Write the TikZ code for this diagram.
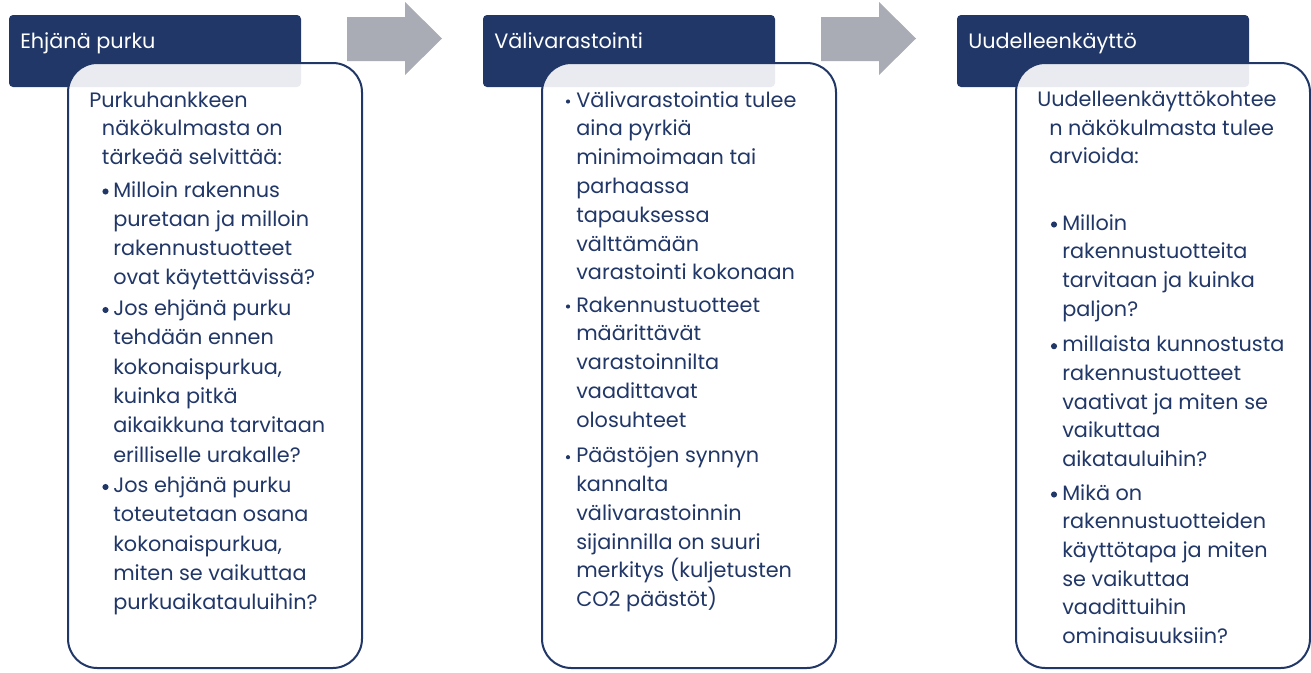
\documentclass[tikz,border=0pt]{standalone}
\usepackage{fontspec}
\setmainfont{Poppins}
\definecolor{navy}{HTML}{213767}
\definecolor{arrowgray}{HTML}{A9ABB5}
\tikzset{
  hdr/.style={fill=navy, rounded corners=3pt},
  card/.style={draw=navy, line width=1.5pt, fill=white, fill opacity=0.9, rounded corners=22pt},
  txt/.style={anchor=base west, inner sep=0pt, text=navy, font=\fontsize{15.6}{18}\selectfont},
  htxt/.style={anchor=base west, inner sep=0pt, text=white, font=\fontsize{15.6}{18}\selectfont},
  bigdot/.style={circle, fill=navy, inner sep=0pt, minimum size=4.6pt},
  smalldot/.style={circle, fill=navy, inner sep=0pt, minimum size=3.1pt},
  flow/.style={fill=arrowgray}
}
\newcommand\txtlines[5]{%
  \foreach \myline [count=\i from 0] in {#5} {%
    \node[txt] (#1-\i) at (#2,{#3+\i*#4}) {\myline};
  }%
}
\begin{document}
\begin{tikzpicture}[x=0.75pt,y=-0.75pt]
\useasboundingbox (0,0) rectangle (1311,672);
% headers
\fill[hdr] (9,15) rectangle (301,87);
\fill[hdr] (483,15) rectangle (775,87);
\fill[hdr] (957,15) rectangle (1249,87);
% arrows
\fill[flow] (347,17) -- (405,17) -- (405,2) -- (442,38.5) -- (405,75) -- (405,61) -- (347,61) -- cycle;
\fill[flow] (821,17) -- (879,17) -- (879,2) -- (916,38.5) -- (879,75) -- (879,61) -- (821,61) -- cycle;
% cards
\path[card] (68,63) rectangle (362,668);
\path[card] (542,63) rectangle (836,668);
\path[card] (1016,63) rectangle (1310,668);
% header texts
\node[htxt] (h1) at (20,48) {Ehjänä purku};
\node[htxt] (h2) at (494,48) {Välivarastointi};
\node[htxt] (h3) at (968,48) {Uudelleenkäyttö};
% box 1
\node[txt] (a0) at (89,107) {Purkuhankkeen};
\txtlines{a1}{101.7}{135.5}{28.5}{näkökulmasta on, tärkeää selvittää:}
\txtlines{b1}{113}{197}{29.3}{Milloin rakennus, puretaan ja milloin, rakennustuotteet, ovat käytettävissä?}
\txtlines{b2}{113}{315.5}{29.3}{Jos ehjänä purku, tehdään ennen, {kokonaispurkua,}, kuinka pitkä, aikaikkuna tarvitaan, erilliselle urakalle?}
\txtlines{b3}{113}{492.5}{29.3}{Jos ehjänä purku, toteutetaan osana, {kokonaispurkua,}, miten se vaikuttaa, purkuaikatauluihin?}
\node[bigdot] (d1) at (105.5,191.5) {};
\node[bigdot] (d2) at (105.5,310) {};
\node[bigdot] (d3) at (105.5,487) {};
% box 2
\txtlines{c1}{576}{107}{28.8}{Välivarastointia tulee, aina pyrkiä, minimoimaan tai, parhaassa, tapauksessa, välttämään, varastointi kokonaan}
\txtlines{c2}{576}{312}{28.8}{Rakennustuotteet, määrittävät, varastoinnilta, vaadittavat, olosuhteet}
\txtlines{c3}{576}{462.7}{28.8}{Päästöjen synnyn, kannalta, välivarastoinnin, sijainnilla on suuri, merkitys (kuljetusten, CO2 päästöt)}
\node[smalldot] (e1) at (568,101.5) {};
\node[smalldot] (e2) at (568,306.5) {};
\node[smalldot] (e3) at (568,457.2) {};
% box 3
\node[txt] (f0) at (1037,106) {Uudelleenkäyttökohtee};
\txtlines{f1}{1049}{135}{28.5}{n näkökulmasta tulee, arvioida:}
\txtlines{g1}{1062}{230}{28.7}{Milloin, rakennustuotteita, tarvitaan ja kuinka, paljon?}
\txtlines{g2}{1062}{351.7}{28.7}{millaista kunnostusta, rakennustuotteet, vaativat ja miten se, vaikuttaa, aikatauluihin?}
\txtlines{g3}{1062}{500}{28.7}{Mikä on, rakennustuotteiden, käyttötapa ja miten, se vaikuttaa, vaadittuihin, ominaisuuksiin?}
\node[bigdot] (k1) at (1054,224.5) {};
\node[bigdot] (k2) at (1054,346.2) {};
\node[bigdot] (k3) at (1054,494.5) {};
\end{tikzpicture}
\end{document}
